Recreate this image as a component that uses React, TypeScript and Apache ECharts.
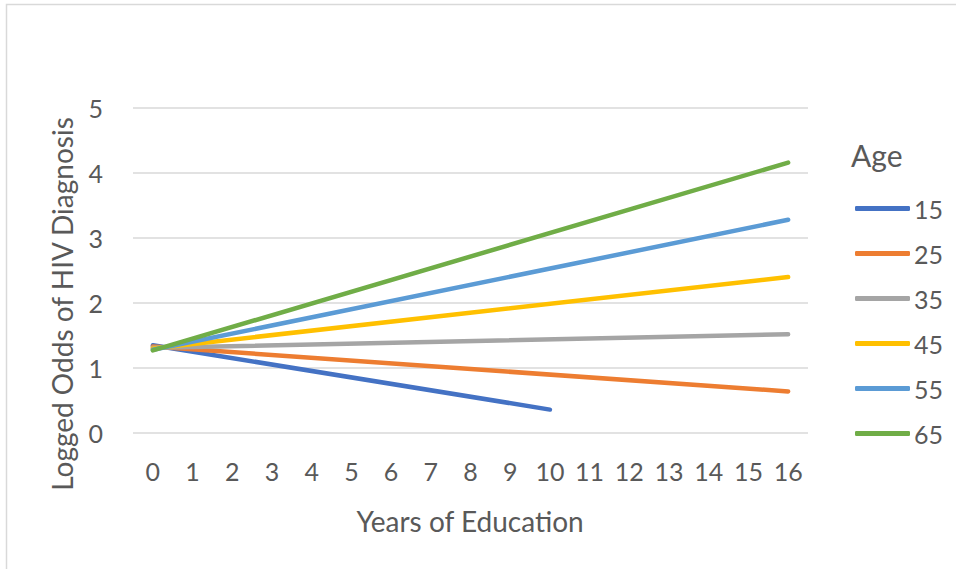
import React, { useEffect, useRef } from "react";
import * as echarts from "echarts";

const years = ["0","1","2","3","4","5","6","7","8","9","10","11","12","13","14","15","16"];
const ageGroups = ["15", "25", "35", "45", "55", "65"];
const colors = ["#4472C4", "#ED7D31", "#A5A5A5", "#FFC000", "#5B9BD5", "#70AD47"];
// endpoints: [x, y]
const age15 = [[0, 1.35], [10, 0.36]];
const age25 = [[0, 1.33], [16, 0.64]];
const age35 = [[0, 1.31], [16, 1.52]];
const age45 = [[0, 1.3], [16, 2.4]];
const age55 = [[0, 1.28], [16, 3.28]];
const age65 = [[0, 1.27], [16, 4.16]];
const seriesData = [age15, age25, age35, age45, age55, age65];

const FONT = "Lato, 'Open Sans', sans-serif";
const TXT = "#595959";

export default function App() {
  const ref = useRef<HTMLDivElement>(null);
  useEffect(() => {
    const chart = echarts.init(ref.current!, null, { renderer: "svg" });
    chart.setOption({
      animation: false,
      backgroundColor: "#fff",
      grid: { left: 133, right: 148, top: 108, bottom: 136 },
      xAxis: {
        type: "category",
        data: years,
        boundaryGap: true,
        axisLine: { show: false },
        axisTick: { show: false },
        axisLabel: { color: TXT, fontSize: 25, fontFamily: FONT, margin: 25, interval: 0 },
        splitLine: { show: false },
      },
      yAxis: {
        type: "value",
        min: 0,
        max: 5,
        interval: 1,
        axisLine: { show: false },
        axisTick: { show: false },
        axisLabel: { color: TXT, fontSize: 25, fontFamily: FONT, margin: 30 },
        splitLine: { lineStyle: { color: "#D9D9D9", width: 1.5 } },
      },
      legend: {
        orient: "vertical",
        left: 855,
        top: 196,
        padding: 0,
        itemWidth: 55,
        itemHeight: 5,
        itemGap: 20,
        icon: "roundRect",
        data: ageGroups,
        textStyle: { color: TXT, fontSize: 25, fontFamily: FONT, padding: [0, 0, 0, -1] },
      },
      graphic: [
        {
          type: "rect",
          shape: { x: 6.5, y: 4.5, width: 1000, height: 1000 },
          style: { fill: "none", stroke: "#D9D9D9", lineWidth: 1.5 },
          silent: true,
        },
        {
          type: "text",
          x: 851,
          y: 155,
          style: { text: "Age", fill: TXT, fontSize: 30, fontFamily: FONT, verticalAlign: "middle" },
        },
        {
          type: "text",
          x: 470,
          y: 521,
          style: { text: "Years of Education", fill: TXT, fontSize: 28, fontFamily: FONT, align: "center", verticalAlign: "middle" },
        },
        {
          type: "text",
          x: 62,
          y: 304,
          rotation: Math.PI / 2,
          style: { text: "Logged Odds of HIV Diagnosis", fill: TXT, fontSize: 28, fontFamily: FONT, align: "center", verticalAlign: "middle" },
        },
      ],
      series: ageGroups.map((name, i) => ({
        name,
        type: "line",
        data: seriesData[i],
        symbol: "none",
        color: colors[i],
        lineStyle: { width: 4.5, color: colors[i], cap: "round" },
      })),
    });
    return () => chart.dispose();
  }, []);
  return <div ref={ref} style={{ width: 956, height: 569, position: "absolute", left: 0, top: 0 }} />;
}
